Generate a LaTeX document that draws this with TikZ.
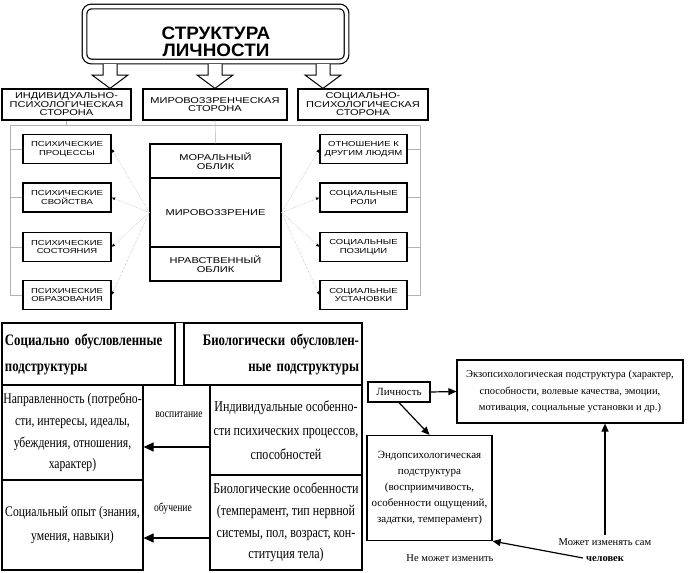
\documentclass[tikz,border=0pt]{standalone}
\usepackage{fontspec}
\setmainfont{Liberation Serif}
\newfontfamily\capsf[FakeStretch=1.3]{Liberation Sans}
\newfontfamily\titlef[FakeStretch=1.05]{Liberation Sans}
\newfontfamily\condf[FakeStretch=0.8]{Liberation Serif}
\newfontfamily\handf{Liberation Serif}
\usetikzlibrary{arrows.meta}
\begin{document}
\begin{tikzpicture}[x=1pt,y=-1pt,
  topbox/.style={draw, line width=1.2pt, inner sep=0pt, align=center, font=\capsf\fontsize{8.5}{8.5}\selectfont},
  sidebox/.style={topbox, minimum width=129pt, minimum height=31pt},
  smallbox/.style={topbox, minimum width=88pt, minimum height=29pt, font=\capsf\fontsize{7.3}{8.5}\selectfont},
  grayline/.style={draw=gray!60, line width=0.5pt},
  dotarrow/.style={draw=gray!60, line width=0.5pt, densely dotted, -{Latex[length=3.5pt,width=3pt,color=black]}},
  hollow/.style={draw, line width=1pt, fill=white, line join=miter},
  cell/.style={draw, line width=1.2pt, inner sep=0pt, align=center, font=\condf\fontsize{15}{21.7}\selectfont},
  headcell/.style={draw, line width=1.2pt, inner sep=0pt, minimum height=62pt, font=\condf\bfseries\fontsize{16}{26}\selectfont},
  tblarrow/.style={line width=1.2pt, -{Triangle[length=10pt,width=9pt]}},
  hbox/.style={draw, line width=1.2pt, inner sep=0pt, align=center, font=\handf\fontsize{10.5}{16.5}\selectfont},
  harrow/.style={line width=1.2pt, -{Triangle[length=8pt,width=7pt]}},
  htext/.style={align=center, font=\handf\fontsize{10.5}{16}\selectfont}
]
\useasboundingbox (0,0) rectangle (689,573);
\fill[white] (0,0) rectangle (689,573);

% ---------------- top diagram ----------------
\node[draw, line width=1.2pt, double, double distance=3.5pt, rounded corners=7pt,
      minimum width=262pt, minimum height=55pt] (title) at (215.5,34) {};
\node[font=\titlef\bfseries\fontsize{18}{17}\selectfont, align=center] (titletext) at (216,42) {СТРУКТУРА\\ЛИЧНОСТИ};

\node[sidebox] (lbox) at (66.5,104.5) {ИНДИВИДУАЛЬНО-\\ПСИХОЛОГИЧЕСКАЯ\\СТОРОНА};
\node[sidebox, minimum width=144pt] (mbox) at (215,104.5) {МИРОВОЗЗРЕНЧЕСКАЯ\\СТОРОНА};
\node[sidebox, minimum width=130pt] (rbox) at (363,104.5) {СОЦИАЛЬНО-\\ПСИХОЛОГИЧЕСКАЯ\\СТОРОНА};

\draw[hollow] (103,64) -- (103,75) -- (92,75) -- (lbox.north -| 110,0) -- (128,75) -- (117,75) -- (117,64);
\draw[hollow] (208,64) -- (208,75) -- (197,75) -- (mbox.north -| 215,0) -- (233,75) -- (222,75) -- (222,64);
\draw[hollow] (316,64) -- (316,75) -- (305,75) -- (rbox.north -| 323,0) -- (341,75) -- (330,75) -- (330,64);

\node[smallbox] (l1) at (67,149) {ПСИХИЧЕСКИЕ\\ПРОЦЕССЫ};
\node[smallbox] (l2) at (67,197.5) {ПСИХИЧЕСКИЕ\\СВОЙСТВА};
\node[smallbox] (l3) at (67,247) {ПСИХИЧЕСКИЕ\\СОСТОЯНИЯ};
\node[smallbox] (l4) at (67,295) {ПСИХИЧЕСКИЕ\\ОБРАЗОВАНИЯ};

\node[smallbox, minimum width=87pt] (r1) at (363.5,149) {ОТНОШЕНИЕ К\\ДРУГИМ ЛЮДЯМ};
\node[smallbox, minimum width=87pt] (r2) at (363.5,197.5) {СОЦИАЛЬНЫЕ\\РОЛИ};
\node[smallbox, minimum width=87pt] (r3) at (363.5,247) {СОЦИАЛЬНЫЕ\\ПОЗИЦИИ};
\node[smallbox, minimum width=87pt] (r4) at (363.5,295) {СОЦИАЛЬНЫЕ\\УСТАНОВКИ};

\node[topbox, minimum width=131pt, minimum height=34pt] (cbtop) at (215.5,161) {МОРАЛЬНЫЙ\\ОБЛИК};
\node[topbox, minimum width=131pt, minimum height=69pt] (cbmid) at (215.5,212.5) {МИРОВОЗЗРЕНИЕ};
\node[topbox, minimum width=131pt, minimum height=34pt] (cbbot) at (215.5,264) {НРАВСТВЕННЫЙ\\ОБЛИК};

\coordinate (hlL) at (10,125);
\coordinate (hlR) at (420,125);
\draw[grayline] (hlL) -- (hlR);
\draw[grayline] (lbox.south) -- (lbox.south |- hlL);
\draw[grayline] (mbox.south) -- (cbtop.north);
\draw[grayline] (hlL) |- (l4.west);
\draw[grayline] (hlR) |- (r4.east);
\foreach \n in {l1,l2,l3} \draw[grayline] (\n.west -| hlL) -- (\n.west);
\foreach \n in {r1,r2,r3} \draw[grayline] (\n.east -| hlR) -- (\n.east);
\foreach \n in {l1,l2,l3,l4} \draw[dotarrow] (cbmid.west) -- (\n.east);
\foreach \n in {r1,r2,r3,r4} \draw[dotarrow] (cbmid.east) -- (\n.west);

% ---------------- bottom-left table ----------------
\node[headcell, minimum width=173pt, text width=167pt, align=left] (h1) at (88.5,354) {Социально обусловленные\\подструктуры};
\node[headcell, minimum width=178pt, text width=172pt, align=right] (h2) at (273,354) {Биологически обусловлен-\\ные подструктуры};
\draw[line width=1.2pt] (h1.south east) -- (h2.south west);
\draw[line width=1.2pt] (h1.north east) -- (h2.north west);

\node[cell, minimum width=141pt, minimum height=95pt, font=\condf\fontsize{14.6}{21.7}\selectfont] (a1) at (72.5,432.5) {Направленность (потребно-\\сти, интересы, идеалы,\\убеждения, отношения,\\характер)};
\node[cell, minimum width=141pt, minimum height=90pt, font=\condf\fontsize{14.6}{24}\selectfont] (a2) at (72.5,525) {Социальный опыт (знания,\\умения, навыки)};
\node[cell, minimum width=152pt, minimum height=90pt, font=\condf\fontsize{15}{24}\selectfont] (b1) at (286,430) {Индивидуальные особенно-\\сти психических процессов,\\способностей};
\node[cell, minimum width=152pt, minimum height=95pt] (b2) at (286,522.5) {Биологические особенности\\(темперамент, тип нервной\\системы, пол, возраст, кон-\\ституция тела)};

\node[font=\condf\fontsize{12}{14}\selectfont] (vosp) at (179,415) {воспитание};
\node[font=\condf\fontsize{12}{14}\selectfont] (obuch) at (173,508) {обучение};

\draw[tblarrow] (b1.west |- 0,447) -- (a1.east |- 0,447);
\draw[tblarrow] (b2.west |- 0,538) -- (a2.east |- 0,538);

% ---------------- bottom-right diagram ----------------
\node[hbox, minimum width=62pt, minimum height=20pt, font=\handf\fontsize{11}{13}\selectfont] (lich) at (399,392) {Личность};
\node[hbox, minimum width=226pt, minimum height=63pt] (exo) at (570,391.5) {Экзопсихологическая подструктура (характер,\\способности, волевые качества, эмоции,\\мотивация, социальные установки и др.)};
\node[hbox, minimum width=125pt, minimum height=105pt, font=\handf\fontsize{11}{16}\selectfont] (endo) at (429.5,488) {Эндопсихологическая\\подструктура\\(восприимчивость,\\особенности ощущений,\\задатки, темперамент)};

\node[htext] (cannot) at (450,558) {Не может изменить};
\node[htext] (can) at (605,550) {Может изменять сам\\\textbf{человек}};
\coordinate (cst) at (583,558);

\draw[harrow] (lich.east) -- (exo.west);
\draw[harrow] (lich.south) -- (endo.north);
\draw[harrow] (can.north) -- (can.north |- exo.south);
\draw[harrow] (cst) -- (endo.south east);
\end{tikzpicture}
\end{document}
